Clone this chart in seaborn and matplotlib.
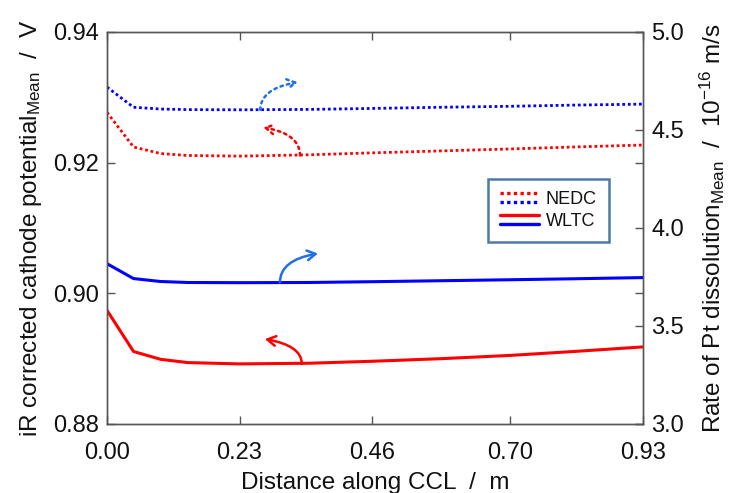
import matplotlib
matplotlib.use("Agg")
import matplotlib.pyplot as plt
import seaborn as sns
import pandas as pd
from matplotlib.lines import Line2D
from matplotlib.legend_handler import HandlerBase

# ---- data ----
distance = [0.0, 0.046, 0.093, 0.14, 0.23, 0.35, 0.46, 0.58, 0.70, 0.81, 0.93]
wltc_potential = [0.8974, 0.8911, 0.8899, 0.8894, 0.8892, 0.8893, 0.8896, 0.8900, 0.8905, 0.8911, 0.8918]
nedc_potential = [0.9277, 0.9224, 0.9214, 0.9211, 0.9210, 0.9212, 0.9215, 0.9218, 0.9221, 0.9224, 0.9227]
wltc_rate = [3.818, 3.742, 3.727, 3.722, 3.721, 3.722, 3.726, 3.731, 3.736, 3.741, 3.747]
nedc_rate = [4.719, 4.616, 4.607, 4.604, 4.603, 4.605, 4.610, 4.616, 4.621, 4.627, 4.632]
x_ticks = [0.00, 0.23, 0.46, 0.70, 0.93]
left_ticks = [0.88, 0.90, 0.92, 0.94]
right_ticks = [3.0, 3.5, 4.0, 4.5, 5.0]
legend_labels = ["NEDC", "WLTC"]

df = pd.DataFrame({"x": distance, "wp": wltc_potential, "np": nedc_potential,
                   "wr": wltc_rate, "nr": nedc_rate})

sns.set_style("ticks")
plt.rcParams["font.family"] = ["Liberation Sans", "DejaVu Sans"]
plt.rcParams["mathtext.fontset"] = "custom"
plt.rcParams["mathtext.rm"] = "Liberation Sans"
plt.rcParams["mathtext.it"] = "Liberation Sans"
plt.rcParams["text.color"] = "#111111"
plt.rcParams["axes.labelcolor"] = "#111111"

RED = "#ff0000"
BLUE = "#0000ff"
ABLUE = "#1f6fe8"
DOT = (0, (1, 1))

fig = plt.figure(figsize=(7.29, 4.93), dpi=100)
ax = fig.add_axes([107 / 729, 1 - 424 / 493, 536 / 729, 392 / 493])
ax2 = ax.twinx()

sns.lineplot(data=df, x="x", y="wp", ax=ax, color=RED, lw=2.2)
sns.lineplot(data=df, x="x", y="np", ax=ax, color=RED, lw=2.0, linestyle=DOT)
sns.lineplot(data=df, x="x", y="wr", ax=ax2, color=BLUE, lw=2.2)
sns.lineplot(data=df, x="x", y="nr", ax=ax2, color=BLUE, lw=2.0, linestyle=DOT)

ax.set_xlim(0, 0.93)
ax.set_ylim(0.88, 0.94)
ax2.set_ylim(3.0, 5.0)
ax.set_xticks(x_ticks)
ax.set_xticklabels([f"{v:.2f}" for v in x_ticks])
ax.set_yticks(left_ticks)
ax.set_yticklabels([f"{v:.2f}" for v in left_ticks])
ax2.set_yticks(right_ticks)
ax2.set_yticklabels([f"{v:.1f}" for v in right_ticks])

ax.tick_params(direction="in", bottom=True, left=True, top=True, right=True,
               length=6, width=1, color="#555555", labelcolor="#111111",
               labelsize=17, pad=6)
ax.tick_params(axis="x", pad=13)
ax2.tick_params(direction="in", right=True, length=6, width=1, color="#555555",
                labelcolor="#111111", labelsize=17, pad=6)
for a in (ax, ax2):
    for s in a.spines.values():
        s.set_color("#555555")
        s.set_linewidth(1)

ax.set_xlabel("Distance along CCL  /  m", fontsize=17.5, labelpad=6)
ax.set_ylabel(r"iR corrected cathode potential$_{\mathrm{Mean}}$  /  V", fontsize=17.5, labelpad=6)
ax2.set_ylabel(r"Rate of Pt dissolution$_{\mathrm{Mean}}$  /  10$^{-16}$ m/s", fontsize=17.5,
               labelpad=10, rotation=90)

# ---- axis indicator arrows ----
def arrow(a, head, tail, color, ls, rad):
    a.annotate("", xy=head, xytext=tail,
               arrowprops=dict(arrowstyle="->,head_length=0.6,head_width=0.35", color=color,
                               lw=1.8, linestyle=ls,
                               connectionstyle=f"angle3,angleA=90,angleB={rad}",
                               shrinkA=0, shrinkB=0))

arrow(ax2, (0.331, 4.744), (0.266, 4.603), ABLUE, ":", 10)
arrow(ax, (0.271, 0.9254), (0.335, 0.9211), RED, ":", -10)
arrow(ax2, (0.366, 3.870), (0.300, 3.722), ABLUE, "-", 10)
arrow(ax, (0.274, 0.8930), (0.338, 0.8892), RED, "-", -10)

# ---- legend with stacked red/blue lines ----
class TwoLineHandler(HandlerBase):
    def __init__(self, ls):
        super().__init__()
        self.ls = ls

    def create_artists(self, legend, orig_handle, xdescent, ydescent, width, height, fontsize, trans):
        y1 = height * 0.85
        y2 = height * 0.15
        l1 = Line2D([0, width], [y1, y1], color=RED, lw=2.4, linestyle=self.ls, transform=trans)
        l2 = Line2D([0, width], [y2, y2], color=BLUE, lw=2.4, linestyle=self.ls, transform=trans)
        return [l1, l2]

h_nedc = Line2D([], [], linestyle=DOT)
h_wltc = Line2D([], [], linestyle="-")
leg = ax.legend([h_nedc, h_wltc], legend_labels,
                handler_map={h_nedc: TwoLineHandler(DOT), h_wltc: TwoLineHandler("-")},
                loc="upper left", bbox_to_anchor=(0.711, 0.625), fontsize=13,
                frameon=True, fancybox=False, handlelength=2.15, handletextpad=0.4,
                borderpad=0.65, labelspacing=0.3, borderaxespad=0)
leg.get_frame().set_edgecolor("#1f5a8f")
leg.get_frame().set_linewidth(1.8)
leg.set_zorder(10)

fig.savefig("out.png", dpi=100)
